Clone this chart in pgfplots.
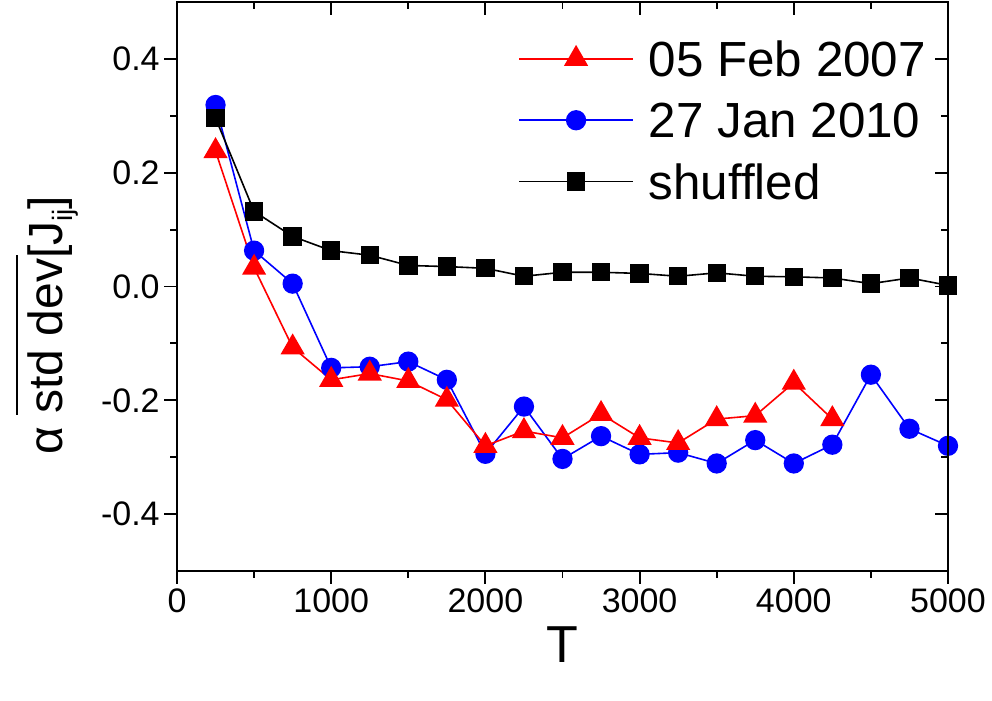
\documentclass[border=0pt]{standalone}
\usepackage{fontspec}
\setmainfont{Liberation Sans}
\usepackage{pgfplots}
\pgfplotsset{compat=1.18}

% 1 px of the reference = 0.75pt
\pgfplotsset{
  frame/.style={
    scale only axis, width=578.25pt, height=426.75pt,
    at={(0,0)}, anchor=south west,
    xmin=0, xmax=5000, ymin=-0.5, ymax=0.5,
    xtick={0,1000,2000,3000,4000,5000},
    minor xtick={500,1500,2500,3500,4500},
    ytick={-0.4,-0.2,0,0.2,0.4},
    minor ytick={-0.3,-0.1,0.1,0.3},
    major tick length=9.5pt, minor tick length=5pt,
    every tick/.style={black, line width=1.4pt},
    axis line style={line width=1.8pt},
  },
}

\begin{document}
\begin{tikzpicture}
\begin{axis}[frame,
  tick align=outside, xtick pos=bottom, ytick pos=left,
  /pgf/number format/assume math mode=true,
  ticklabel style={font=\fontsize{25.5}{30}\selectfont},
  xticklabel style={/pgf/number format/1000 sep={}},
  yticklabel style={/pgf/number format/fixed, /pgf/number format/fixed zerofill,
    /pgf/number format/precision=1},
  xlabel={T},
  xlabel style={font=\fontsize{39}{45}\selectfont, at={(rel axis cs:0.5,0)}, anchor=base, yshift=-68.25pt},
  ylabel={α std dev[J\raisebox{-7pt}{\fontsize{21}{21}\selectfont ij}]},
  ylabel style={font=\fontsize{36}{42}\selectfont, at={(rel axis cs:0,0.432)}, rotate=0, anchor=base, yshift=85.5pt},
  legend cell align=left,
  legend image code/.code={
    \draw[mark repeat=2, mark phase=2, #1] plot coordinates {(0pt,0pt) (42.75pt,0pt) (85.5pt,0pt)};
    \path (0pt,0pt) (96.75pt,0pt);
  },
  legend style={at={(rel axis cs:0.4423,0.9315)}, anchor=north west, draw=none, fill=none,
    inner sep=0pt, row sep=19.5pt, font=\fontsize{37}{44}\selectfont,
    nodes={inner sep=0pt, text height=26.5pt, text depth=0pt}},
]
% 27 Jan 2010 (drawn first, listed second)
\addplot[blue, line width=1.2pt, mark=*, mark size=7pt, mark options={solid, fill=blue, draw=blue}, forget plot] coordinates {
  (250,0.319) (500,0.063) (750,0.005) (1000,-0.143) (1250,-0.141) (1500,-0.132)
  (1750,-0.164) (2000,-0.294) (2250,-0.211) (2500,-0.303) (2750,-0.263) (3000,-0.295)
  (3250,-0.292) (3500,-0.311) (3750,-0.270) (4000,-0.311) (4250,-0.278) (4500,-0.155)
  (4750,-0.250) (5000,-0.280)
};
% 05 Feb 2007
\addplot[red, line width=1.2pt, mark=triangle*, mark size=9.3pt, mark options={solid, fill=red, draw=red}] coordinates {
  (250,0.238) (500,0.033) (750,-0.107) (1000,-0.164) (1250,-0.153) (1500,-0.166)
  (1750,-0.199) (2000,-0.280) (2250,-0.254) (2500,-0.266) (2750,-0.224) (3000,-0.266)
  (3250,-0.275) (3500,-0.233) (3750,-0.227) (4000,-0.169) (4250,-0.233)
};
\addlegendentry{05 Feb 2007}
\addlegendimage{blue, line width=1.2pt, mark=*, mark size=7pt, mark options={solid, fill=blue, draw=blue}}
\addlegendentry{27 Jan 2010}
% shuffled
\addplot[black, line width=1.2pt, mark=square*, mark size=6.3pt, mark options={solid, fill=black, draw=black}] coordinates {
  (250,0.296) (500,0.132) (750,0.088) (1000,0.063) (1250,0.055) (1500,0.037)
  (1750,0.035) (2000,0.032) (2250,0.018) (2500,0.025) (2750,0.025) (3000,0.023)
  (3250,0.018) (3500,0.024) (3750,0.018) (4000,0.017) (4250,0.015) (4500,0.005)
  (4750,0.015) (5000,0.002)
};
\addlegendentry{shuffled}
\end{axis}
% inward ticks on top and right
\begin{axis}[frame,
  tick align=inside, xtick pos=top, ytick pos=right,
  xticklabels={}, yticklabels={},
]
\end{axis}
% bar over "std dev"
\draw[line width=1.5pt] (-120pt,117pt) -- (-120pt,237pt);
\pgfresetboundingbox
\path[use as bounding box] (-132.75pt,-96.75pt) rectangle (611.25pt,428.25pt);
\end{tikzpicture}
\end{document}
